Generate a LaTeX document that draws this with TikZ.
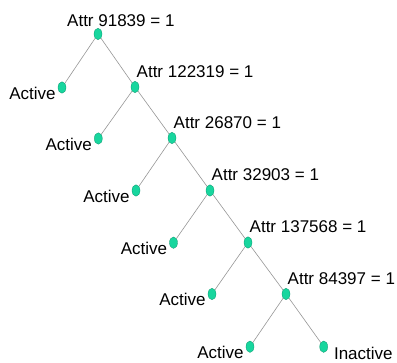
\documentclass[tikz,border=0pt]{standalone}
\usepackage{fontspec}
\setmainfont{Liberation Sans}
\usetikzlibrary{arrows,positioning,shapes}
\definecolor{nodeteal}{RGB}{24,214,158}
\definecolor{nodeedge}{RGB}{12,150,110}
\definecolor{linegray}{RGB}{150,150,150}

\begin{document}
\begin{tikzpicture}[x=1pt, y=-1pt, tree node/.style={ellipse,draw=nodeedge,fill=nodeteal,line width=.3pt,minimum width=8pt,minimum height=11.5pt,inner sep=0pt},every label/.style={font=\fontsize{17}{20}\selectfont,inner sep=0pt},attr label/.style={anchor=base west,xshift=1.5pt,yshift=4pt},act label/.style={anchor=base east,xshift=-2pt,yshift=-12pt},inact label/.style={anchor=base west,xshift=6pt,yshift=-13pt},tree edge/.style={draw=linegray,line width=.6pt}]
\useasboundingbox (0,0) rectangle (397,363);
\begin{scope}
\node[tree node,label={[anchor=base west,xshift=-31pt,yshift=2pt]above:Attr 91839 = 1}] (r1) at (98,34) {};
\node[tree node,label={[act label]left:Active}] (a1) at (62,87.5) {};
\node[tree node,label={[attr label]above:Attr 122319 = 1}] (r2) at (135,87) {};
\node[tree node,label={[act label]left:Active}] (a2) at (98.3,138.5) {};
\node[tree node,label={[attr label]above:Attr 26870 = 1}] (r3) at (172,138) {};
\node[tree node,label={[act label]left:Active}] (a3) at (136,190.5) {};
\node[tree node,label={[attr label]above:Attr 32903 = 1}] (r4) at (210,190.5) {};
\node[tree node,label={[act label]left:Active}] (a4) at (173.5,242.7) {};
\node[tree node,label={[attr label]above:Attr 137568 = 1}] (r5) at (248,242.5) {};
\node[tree node,label={[act label]left:Active}] (a5) at (212,294) {};
\node[tree node,label={[attr label]above:Attr 84397 = 1}] (r6) at (286,294) {};
\node[tree node,label={[act label]left:Active}] (a6) at (250,346.7) {};
\node[tree node,label={[inact label]right:Inactive}] (i6) at (323.7,346.7) {};
\end{scope}
\begin{scope}
\draw[tree edge] (r1) -- (a1);
\draw[tree edge] (r1) -- (r2);
\draw[tree edge] (r2) -- (a2);
\draw[tree edge] (r2) -- (r3);
\draw[tree edge] (r3) -- (a3);
\draw[tree edge] (r3) -- (r4);
\draw[tree edge] (r4) -- (a4);
\draw[tree edge] (r4) -- (r5);
\draw[tree edge] (r5) -- (a5);
\draw[tree edge] (r5) -- (r6);
\draw[tree edge] (r6) -- (a6);
\draw[tree edge] (r6) -- (i6);
\end{scope}
\end{tikzpicture}
\end{document}
